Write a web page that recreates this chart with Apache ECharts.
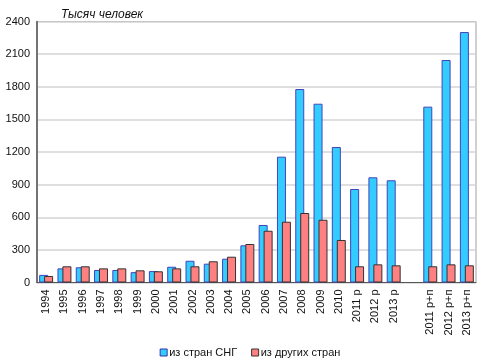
<!DOCTYPE html>
<html>
<head>
<meta charset="utf-8">
<script src="https://cdn.jsdelivr.net/npm/echarts@6/dist/echarts.min.js"></script>
<style>html,body{margin:0;padding:0;background:#fff}#c{width:500px;height:364px}</style>
</head>
<body>
<div id="c"></div>
<script>
var categories = ['1994','1995','1996','1997','1998','1999','2000','2001','2002','2003','2004','2005','2006','2007','2008','2009','2010','2011 р','2012 р','2013 р','','2011 р+п','2012 р+п','2013 р+п'];
var cisValues = [70,130,140,115,115,95,105,145,200,173,219,342,529,1157,1779,1644,1246,860,967,940,null,1617,2046,2303];
var otherValues = [60,149,149,130,130,112,103,130,149,195,237,354,476,559,639,577,391,149,167,158,null,149,167,158];
var seriesNames = ['из стран СНГ','из других стран'];
var yTicks = {min:0, max:2400, interval:300};
var titleText = 'Тысяч человек';

var chart = echarts.init(document.getElementById('c'));
var font = 'Liberation Sans, Arial, sans-serif';
chart.setOption({
  animation: false,
  textStyle: {fontFamily: font},
  title: {text: titleText, left: 56, top: 4, textStyle: {fontSize: 12, fontStyle: 'italic', fontWeight: 'normal', color: '#111', fontFamily: font}},
  legend: {
    bottom: 1, left: 'center', itemWidth: 7, itemHeight: 7, itemGap: 14,
    textStyle: {fontSize: 11, color: '#111', padding: [0,0,0,-3]},
    data: [
      {name: seriesNames[0], icon: 'rect', itemStyle: {color: '#33ccff', borderColor: '#3333aa', borderWidth: 1}},
      {name: seriesNames[1], icon: 'rect', itemStyle: {color: '#ff8080', borderColor: '#333333', borderWidth: 1}}
    ]
  },
  grid: {left: 37, right: 24, top: 21.5, bottom: 81.5, show: true, borderColor: '#a0a0a0', borderWidth: 1},
  xAxis: {
    type: 'category', data: categories,
    axisLine: {lineStyle: {color: '#555', width: 1}},
    axisTick: {show: false},
    axisLabel: {rotate: 90, fontSize: 11, color: '#111', margin: 7, interval: 0}
  },
  yAxis: {
    type: 'value', min: yTicks.min, max: yTicks.max, interval: yTicks.interval,
    axisLine: {show: true, lineStyle: {color: '#555', width: 1.5}},
    axisTick: {show: false},
    axisLabel: {fontSize: 11, color: '#111', margin: 7, formatter: function (v) { return String(v); }},
    splitLine: {lineStyle: {color: '#d4d4d4', width: 1.5}}
  },
  series: [
    {name: seriesNames[0], type: 'bar', data: cisValues, barWidth: 9, barGap: '-45%',
     itemStyle: {color: '#33ccff', borderColor: '#4444bb', borderWidth: 1}},
    {name: seriesNames[1], type: 'bar', data: otherValues, barWidth: 9,
     itemStyle: {color: '#ff8080', borderColor: '#333333', borderWidth: 1}}
  ]
});
</script>
</body>
</html>
